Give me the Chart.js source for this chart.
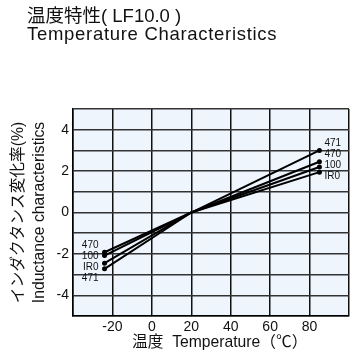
<!DOCTYPE html>
<html>
<head>
<meta charset="utf-8">
<script src="https://cdn.jsdelivr.net/npm/chart.js@4"></script>
<style>
  html, body { margin: 0; padding: 0; background: #fff; }
  #wrap { width: 353px; height: 354px; }
</style>
</head>
<body>
<div id="wrap"><canvas id="tempChart" width="353" height="354"></canvas></div>
<script>
const FONT = "'Liberation Sans', Arial, 'Noto Sans CJK JP', sans-serif";

const seriesNames = ['471', '470', '100', 'IR0'];
const temps = [-24, 20, 85];
const val471 = [-2.72, 0, 3.0];
const val470 = [-1.92, 0, 2.45];
const val100 = [-2.08, 0, 2.2];
const valIR0 = [-2.45, 0, 1.95];
const xTicks = [-20, 0, 20, 40, 60, 80];
const yTicks = [-4, -2, 0, 2, 4];
const rightOrder = ['471', '470', '100', 'IR0'];
const leftOrder = ['470', '100', 'IR0', '471'];

const seriesValues = [val471, val470, val100, valIR0];

const datasets = seriesNames.map((name, i) => ({
    label: name,
    data: temps.map((t, j) => ({ x: t, y: seriesValues[i][j] })),
    showLine: true,
    borderColor: '#000',
    borderWidth: 2,
    pointRadius: [2.5, 0, 2.5],
    pointBackgroundColor: '#000',
    pointBorderWidth: 0
}));

const plotBg = {
    id: 'plotBg',
    beforeDraw(chart) {
        const { ctx, chartArea: a } = chart;
        ctx.save();
        ctx.fillStyle = '#eef5fd';
        ctx.fillRect(a.left, a.top, a.right - a.left, a.bottom - a.top);
        ctx.restore();
    }
};

const texts = {
    id: 'texts',
    afterDraw(chart) {
        const { ctx, scales: { x, y } } = chart;
        ctx.save();
        ctx.fillStyle = '#111';
        ctx.textBaseline = 'middle';
        ctx.textAlign = 'left';
        ctx.font = '18.5px ' + FONT;
        ctx.fillText('温度特性( LF10.0 )', 27, 17);
        ctx.letterSpacing = '0.7px';
        ctx.fillText('Temperature Characteristics', 27, 35);
        ctx.letterSpacing = '0px';

        // series labels at the line ends
        ctx.font = '10px ' + FONT;
        const xr = x.getPixelForValue(temps[2]) + 5;
        const topR = y.getPixelForValue(val471[2]) - 7;
        rightOrder.forEach((n, k) => ctx.fillText(n, xr, topR + k * 11));
        ctx.textAlign = 'right';
        const xl = x.getPixelForValue(temps[0]) - 6;
        const topL = y.getPixelForValue(val470[0]) - 7;
        leftOrder.forEach((n, k) => ctx.fillText(n, xl, topL + k * 11));
        ctx.restore();
    }
};

new Chart(document.getElementById('tempChart'), {
    type: 'scatter',
    data: { datasets },
    options: {
        responsive: false,
        animation: false,
        layout: { padding: { top: 109, left: 0, right: 1, bottom: 0 } },
        plugins: { legend: { display: false }, tooltip: { enabled: false } },
        scales: {
            x: {
                min: -40,
                max: 100,
                afterFit(s) { s.height = 38; },
                ticks: {
                    stepSize: 20,
                    color: '#111',
                    padding: 3,
                    font: { family: FONT, size: 14 },
                    callback: v => xTicks.includes(v) ? String(v) : ''
                },
                grid: { color: '#111', lineWidth: 1.5, drawTicks: false },
                border: { color: '#000', width: 1.5 },
                title: {
                    display: true,
                    text: '    温度  Temperature（℃）',
                    color: '#111',
                    font: { family: FONT, size: 15.7, lineHeight: 1.2 },
                    padding: { top: 0, bottom: 1.5 }
                }
            },
            y: {
                min: -5,
                max: 5,
                afterFit(s) { s.width = 73; },
                ticks: {
                    stepSize: 1,
                    color: '#111',
                    padding: 4,
                    font: { family: FONT, size: 14 },
                    callback: v => yTicks.includes(v) ? String(v) : ''
                },
                grid: { color: '#333', lineWidth: 1.5, drawTicks: false },
                border: { color: '#000', width: 1.5 },
                title: {
                    display: true,
                    text: ['インダクタンス変化率(%)', 'Inductance characteristics'],
                    color: '#111',
                    font: { family: FONT, size: 15.7, lineHeight: 1.34 },
                    padding: { top: 8, bottom: 0 }
                }
            }
        }
    },
    plugins: [plotBg, texts]
});
</script>
</body>
</html>
